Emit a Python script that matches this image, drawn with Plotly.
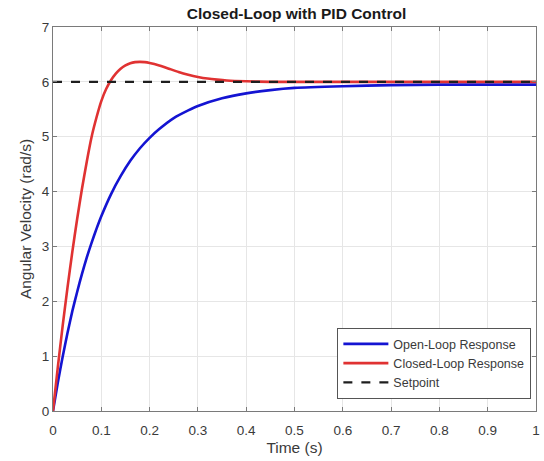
import plotly.graph_objects as go

# Time samples (s)
t_open = [0, 0.01, 0.02, 0.03, 0.04, 0.05, 0.06, 0.07, 0.08, 0.09, 0.10, 0.12, 0.14,
          0.16, 0.18, 0.20, 0.22, 0.25, 0.28, 0.30, 0.35, 0.40, 0.45, 0.50, 0.60,
          0.70, 0.80, 0.90, 1.00]
open_loop = [0, 0.52, 0.99, 1.42, 1.82, 2.17, 2.50, 2.80, 3.07, 3.32, 3.55, 3.95, 4.28,
             4.56, 4.79, 4.98, 5.14, 5.34, 5.48, 5.56, 5.70, 5.79, 5.85, 5.89, 5.92,
             5.94, 5.95, 5.95, 5.95]

t_closed = [0, 0.01, 0.02, 0.03, 0.04, 0.05, 0.06, 0.07, 0.08, 0.09, 0.10, 0.11, 0.12,
            0.13, 0.14, 0.15, 0.16, 0.17, 0.18, 0.19, 0.20, 0.22, 0.24, 0.26, 0.28,
            0.30, 0.32, 0.34, 0.36, 0.40, 0.45, 0.50, 0.60, 0.70, 0.80, 0.90, 1.00]
closed_loop = [0, 0.80, 1.55, 2.25, 2.90, 3.50, 4.05, 4.55, 5.00, 5.35, 5.65, 5.87, 6.03,
               6.15, 6.24, 6.30, 6.34, 6.36, 6.365, 6.36, 6.345, 6.30, 6.24, 6.18, 6.13,
               6.09, 6.06, 6.04, 6.025, 6.01, 6.00, 6.00, 6.00, 6.00, 6.00, 6.00, 6.00]

t_set = [0, 1]
setpoint = [6, 6]

x_ticks = [0, 0.1, 0.2, 0.3, 0.4, 0.5, 0.6, 0.7, 0.8, 0.9, 1]
x_tick_labels = ["0", "0.1", "0.2", "0.3", "0.4", "0.5", "0.6", "0.7", "0.8", "0.9", "1"]
y_ticks = [0, 1, 2, 3, 4, 5, 6, 7]
y_tick_labels = ["0", "1", "2", "3", "4", "5", "6", "7"]

FONT = "Liberation Sans, Arial, sans-serif"

fig = go.Figure()
fig.add_trace(go.Scatter(x=t_open, y=open_loop, mode="lines", name="Open-Loop Response",
                         line=dict(color="#1414d2", width=2.6, shape="spline", smoothing=0.6)))
fig.add_trace(go.Scatter(x=t_closed, y=closed_loop, mode="lines", name="Closed-Loop Response",
                         line=dict(color="#e03232", width=2.6, shape="spline", smoothing=0.6)))
fig.add_trace(go.Scatter(x=t_set, y=setpoint, mode="lines", name="Setpoint",
                         line=dict(color="#1e1e1e", width=2.2, dash="dash")))

axis_common = dict(showline=True, mirror="ticks", linecolor="#7a7a7a", linewidth=1.2,
                   ticks="inside", ticklen=4, tickcolor="#7a7a7a",
                   showgrid=True, gridcolor="#e6e6e6", gridwidth=1, zeroline=False,
                   tickfont=dict(family=FONT, size=13.5, color="#3a3a3a"))

fig.update_layout(
    width=544, height=461,
    margin=dict(l=53, r=4, t=27, b=50),
    paper_bgcolor="white", plot_bgcolor="white",
    title=dict(text="<b>Closed-Loop with PID Control</b>", x=0.545, xanchor="center",
               y=0.97, yanchor="middle",
               font=dict(family=FONT, size=15.5, color="#1a1a1a")),
    xaxis=dict(range=[0, 1], tickvals=x_ticks, ticktext=x_tick_labels,
               ticklabelstandoff=7,
               title=dict(text="Time (s)", font=dict(family=FONT, size=15.5, color="#3a3a3a"),
                          standoff=4),
               **axis_common),
    yaxis=dict(range=[0, 7], tickvals=y_ticks, ticktext=y_tick_labels,
               title=dict(text="Angular Velocity (rad/s)",
                          font=dict(family=FONT, size=15.5, color="#3a3a3a"), standoff=6),
               **axis_common),
    legend=dict(x=0.99, y=0.031, xanchor="right", yanchor="bottom",
                bgcolor="white", bordercolor="#555555", borderwidth=1.2,
                font=dict(family=FONT, size=12.5, color="#3a3a3a"),
                itemwidth=45, tracegroupgap=0),
    showlegend=True,
)

fig.write_html("out.html")
